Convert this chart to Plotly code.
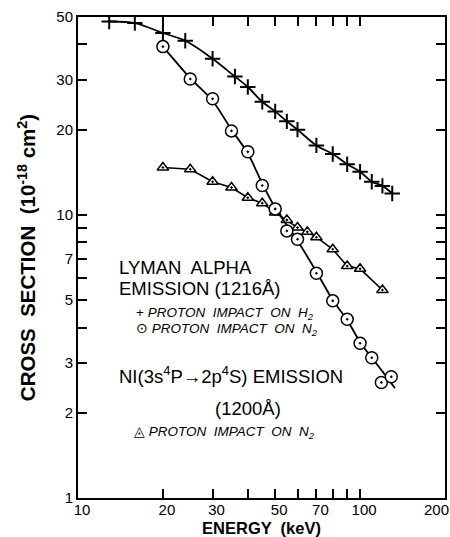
import plotly.graph_objects as go

# Lyman alpha, proton impact on H2 (+)
h2_energy = [12.9, 15.9, 20, 24, 30, 36, 40, 45, 50, 55, 60, 70, 80, 90, 100, 110, 120, 130]
h2_sigma = [48.2, 47.6, 43.9, 41.2, 35.6, 30.8, 28.3, 25.1, 23.2, 21.4, 20.0, 17.6, 16.4, 15.1, 14.2, 13.1, 12.66, 11.9]

# Lyman alpha, proton impact on N2 (circle with dot)
n2_energy = [20, 25, 30, 35, 40, 45, 50, 55, 60, 70, 80, 90, 100, 110, 119, 129]
n2_sigma = [39.3, 30.2, 25.7, 19.8, 16.7, 12.7, 10.5, 8.78, 8.2, 6.22, 4.97, 4.28, 3.52, 3.13, 2.56, 2.68]
# smooth curve drawn through the N2 points
n2_fit_energy = [20, 25, 30, 35, 40, 45, 50, 55, 60, 70, 80, 90, 100, 110, 120, 133]
n2_fit_sigma = [39.3, 30.4, 25.3, 20.0, 16.5, 12.9, 10.6, 9.2, 8.1, 6.3, 5.0, 4.25, 3.55, 3.13, 2.80, 2.44]

# NI (1200 A), proton impact on N2 (triangle)
ni_energy = [20, 25, 30, 35, 40, 45, 50, 55, 60, 65, 70, 80, 90, 100, 120]
ni_sigma = [14.7, 14.5, 13.1, 12.5, 11.5, 11.0, 10.2, 9.6, 9.02, 8.71, 8.34, 7.56, 6.6, 6.45, 5.43]

x_tickvals = [10, 20, 30, 50, 70, 100, 200]
x_ticktext = ["10", "20", "30", "50", "70", "100", "200" + "\u00a0" * 6]
x_minorvals = [40, 60, 80, 90]
y_tickvals = [1, 2, 3, 5, 7, 10, 20, 30, 50]
y_ticktext = ["1", "2", "3", "5", "7", "10", "20", "30", "50"]
y_minorvals = [4, 6, 8, 9, 40]

FONT = "Liberation Sans, Arial, sans-serif"

fig = go.Figure()

fig.add_trace(go.Scatter(
    x=h2_energy, y=h2_sigma, mode="lines+markers",
    line=dict(color="black", width=1.8, shape="spline", smoothing=1.0),
    marker=dict(symbol="cross-thin", size=11, line=dict(color="black", width=2)),
    showlegend=False))

fig.add_trace(go.Scatter(
    x=ni_energy, y=ni_sigma, mode="lines+markers",
    line=dict(color="black", width=1.6),
    marker=dict(symbol="triangle-up-dot", size=10, color="white",
                line=dict(color="black", width=1.5)),
    showlegend=False))

fig.add_trace(go.Scatter(
    x=n2_fit_energy, y=n2_fit_sigma, mode="lines",
    line=dict(color="black", width=1.8, shape="spline", smoothing=0.8),
    showlegend=False, hoverinfo="skip"))

fig.add_trace(go.Scatter(
    x=n2_energy, y=n2_sigma, mode="markers",
    marker=dict(symbol="circle-dot", size=12, color="white",
                line=dict(color="black", width=1.5)),
    showlegend=False))

def px_x(px):
    return (px - 78) / 367.0

def px_y(py):
    return (498 - py) / 481.0

big = dict(family=FONT, size=18.5, color="black")
small = dict(family=FONT, size=13.5, color="black")

ann = [
    dict(text="LYMAN  ALPHA", x=px_x(117), y=px_y(267), font=big, xanchor="left"),
    dict(text="EMISSION (1216Å)", x=px_x(117), y=px_y(288), font=big, xanchor="left"),
    dict(text="+ <i>PROTON  IMPACT  ON  H<sub>2</sub></i>", x=px_x(134), y=px_y(313), font=small, xanchor="left"),
    dict(text="⊙ <i>PROTON  IMPACT  ON  N<sub>2</sub></i>", x=px_x(134), y=px_y(329), font=small, xanchor="left"),
    dict(text="NI(3s<sup>4</sup>P→2p<sup>4</sup>S) EMISSION", x=px_x(117), y=px_y(375), font=big, xanchor="left"),
    dict(text="(1200Å)", x=px_x(248), y=px_y(408), font=big, xanchor="center"),
    dict(text="◬ <i>PROTON  IMPACT  ON  N<sub>2</sub></i>", x=px_x(132), y=px_y(432), font=small, xanchor="left"),
]
for a in ann:
    a.update(xref="paper", yref="paper", yanchor="middle", showarrow=False)
fig.update_layout(annotations=ann)

axis_common = dict(
    showline=True, linecolor="black", linewidth=2, mirror="ticks",
    ticks="inside", ticklen=9, tickwidth=1.6, tickcolor="black",
    showgrid=False, zeroline=False, automargin=False, ticklabeloverflow="allow",
    tickfont=dict(family=FONT, size=15, color="black"),
)
minor_common = dict(tickmode="array", ticks="inside", ticklen=9, tickwidth=1.6,
                    tickcolor="black", showgrid=False)

fig.update_xaxes(type="log", range=[1, 2.30103], tickmode="array", tickvals=x_tickvals, ticktext=x_ticktext,
                 minor=dict(tickvals=x_minorvals, **minor_common), ticklabelstandoff=-3, ticklabelshift=4,
                 title=dict(text="<b>ENERGY  (keV)</b>", font=dict(family=FONT, size=16.5, color="black")),
                 **axis_common)
fig.update_yaxes(type="log", range=[0, 1.69897], tickmode="array", tickvals=y_tickvals, ticktext=y_ticktext,
                 minor=dict(tickvals=y_minorvals, **minor_common),
                 title=dict(text="<b>CROSS  SECTION  (10<sup>-18</sup> cm<sup>2</sup>)</b>",
                            font=dict(family=FONT, size=20.5, color="black")),
                 **axis_common)

fig.update_layout(
    width=450, height=537,
    margin=dict(l=78, r=5, t=17, b=39),
    paper_bgcolor="white", plot_bgcolor="white",
    showlegend=False,
)

fig.write_html("out.html")
